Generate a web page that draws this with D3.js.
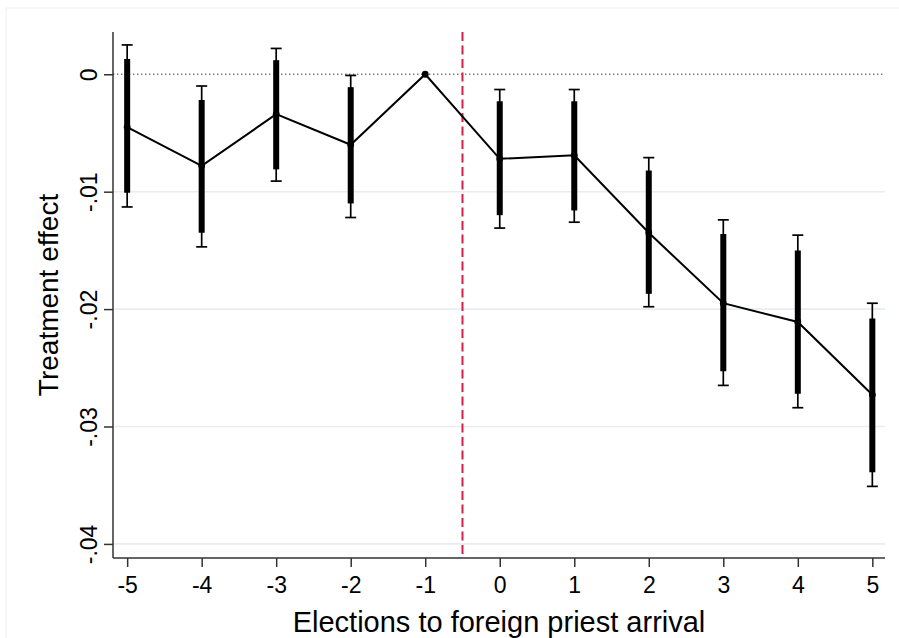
<!DOCTYPE html>
<html><head><meta charset="utf-8">
<script src="https://cdn.jsdelivr.net/npm/d3@7"></script>
<style>body{margin:0;background:#fff}svg{display:block}text{font-family:"Liberation Sans",Arial,sans-serif;fill:#000}</style>
</head><body>
<script>
const periods = [-5,-4,-3,-2,-1,0,1,2,3,4,5];
const estimate = [-0.0045,-0.0078,-0.0034,-0.0060,0,-0.0072,-0.0069,-0.0135,-0.0195,-0.0211,-0.0273];
const ci95Low  = [-0.0113,-0.0147,-0.0091,-0.0122,null,-0.0131,-0.0126,-0.0198,-0.0265,-0.0284,-0.0351];
const ci95High = [0.0025,-0.0010,0.0022,-0.0001,null,-0.0013,-0.0013,-0.0071,-0.0124,-0.0137,-0.0195];
const ci90Low  = [-0.0101,-0.0135,-0.0081,-0.0110,null,-0.0120,-0.0116,-0.0187,-0.0253,-0.0272,-0.0339];
const ci90High = [0.0013,-0.0022,0.0012,-0.0011,null,-0.0023,-0.0023,-0.0082,-0.0136,-0.0150,-0.0208];
const yTicks = [0,-0.01,-0.02,-0.03,-0.04];
const yTickLabels = ["0","-.01","-.02","-.03","-.04"];
const xTicks = [-5,-4,-3,-2,-1,0,1,2,3,4,5];
const eventLine = -0.5;
const xTitle = "Elections to foreign priest arrival";
const yTitle = "Treatment effect";

const W=899,H=638;
const L=113,R=885,T=32,B=558;
const svg=d3.select("body").append("svg").attr("width",W).attr("height",H);
svg.append("rect").attr("x",6).attr("y",8).attr("width",W).attr("height",H).attr("fill","none").attr("stroke","#f0f0f0").attr("stroke-width",1);

const x=d3.scaleLinear().domain([-5.19,5.17]).range([L,R]);
const y=d3.scaleLinear().domain([-0.0412,0.0036]).range([B,T]);

// grid
svg.append("g").selectAll("line").data(yTicks.filter(d=>d!==0)).join("line")
  .attr("x1",L).attr("x2",R).attr("y1",d=>y(d)).attr("y2",d=>y(d))
  .attr("stroke","#e6eef0").attr("stroke-width",1.6);
// zero dotted line
svg.append("line").attr("x1",L).attr("x2",R).attr("y1",y(0)).attr("y2",y(0))
  .attr("stroke","#777").attr("stroke-width",1.4).attr("stroke-dasharray","1.4,2.6");

// axes
const yAxis=d3.axisLeft(y).tickValues(yTicks).tickFormat((d,i)=>yTickLabels[i]).tickSize(9).tickPadding(6);
const gy=svg.append("g").attr("transform",`translate(${L},0)`).call(yAxis);
gy.attr("font-size",null).attr("font-family",null);
gy.select(".domain").attr("d",`M0,${T}V${B}`).attr("stroke","#333").attr("stroke-width",1.5);
gy.selectAll(".tick line").attr("stroke","#333").attr("stroke-width",1.5);
gy.selectAll(".tick text").style("font-size","23px").style("font-family","'Liberation Sans', Arial, sans-serif")
  .attr("fill","#000").attr("text-anchor","middle").attr("dy",0).attr("x",0)
  .attr("transform","translate(-16,0) rotate(-90)");

const xAxis=d3.axisBottom(x).tickValues(xTicks).tickFormat(d3.format("d")).tickSize(9).tickPadding(10);
const gx=svg.append("g").attr("transform",`translate(0,${B})`).call(xAxis);
gx.attr("font-size",null).attr("font-family",null);
gx.select(".domain").attr("d",`M${L},0H${R}`).attr("stroke","#333").attr("stroke-width",1.5);
gx.selectAll(".tick line").attr("stroke","#333").attr("stroke-width",1.5);
gx.selectAll(".tick text").style("font-size","23px").style("font-family","'Liberation Sans', Arial, sans-serif").attr("fill","#000");
gx.selectAll(".tick text").each(function(){const t=d3.select(this);t.text(t.text().replace("−","-"));});

// event line
svg.append("line").attr("x1",x(eventLine)).attr("x2",x(eventLine)).attr("y1",T).attr("y2",B)
  .attr("stroke","#d41f4c").attr("stroke-width",2).attr("stroke-dasharray","9,4.5");

const data=periods.map((p,i)=>({p,e:estimate[i],l95:ci95Low[i],h95:ci95High[i],l90:ci90Low[i],h90:ci90High[i]}));
const ci=data.filter(d=>d.l95!==null);
// thin 95% bars
svg.append("g").selectAll("line").data(ci).join("line")
  .attr("x1",d=>x(d.p)).attr("x2",d=>x(d.p)).attr("y1",d=>y(d.h95)).attr("y2",d=>y(d.l95))
  .attr("stroke","#000").attr("stroke-width",1.7);
const capW=5.5;
svg.append("g").selectAll("line").data(ci.flatMap(d=>[{p:d.p,v:d.h95},{p:d.p,v:d.l95}])).join("line")
  .attr("x1",d=>x(d.p)-capW).attr("x2",d=>x(d.p)+capW).attr("y1",d=>y(d.v)).attr("y2",d=>y(d.v))
  .attr("stroke","#000").attr("stroke-width",1.7);
// thick 90% bars
svg.append("g").selectAll("line").data(ci).join("line")
  .attr("x1",d=>x(d.p)).attr("x2",d=>x(d.p)).attr("y1",d=>y(d.h90)).attr("y2",d=>y(d.l90))
  .attr("stroke","#000").attr("stroke-width",6);
// line
svg.append("path").datum(data).attr("fill","none").attr("stroke","#000").attr("stroke-width",2)
  .attr("d",d3.line().x(d=>x(d.p)).y(d=>y(d.e)));
svg.append("g").selectAll("circle").data(data).join("circle")
  .attr("cx",d=>x(d.p)).attr("cy",d=>y(d.e)).attr("r",3.4).attr("fill","#000");

// titles
svg.append("text").attr("x",(L+R)/2).attr("y",632).attr("text-anchor","middle").style("font-size","29px").text(xTitle);
svg.append("text").attr("transform",`translate(58,${(T+B)/2}) rotate(-90)`).attr("text-anchor","middle").style("font-size","28px").text(yTitle);
</script>
</body></html>
